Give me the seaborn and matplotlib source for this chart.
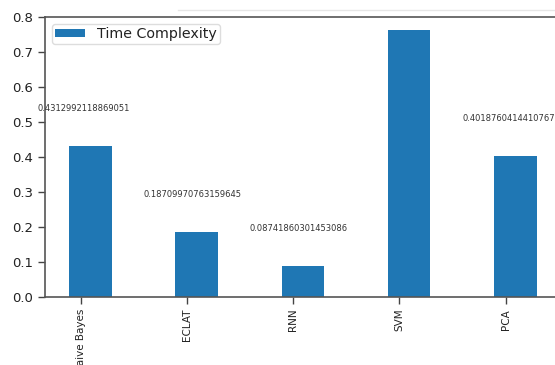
import numpy as np
import pandas as pd
import matplotlib
matplotlib.use("Agg")
import matplotlib.pyplot as plt
from matplotlib.lines import Line2D
import seaborn as sns

# ---- data ----
algorithms = ["Naive Bayes", "ECLAT", "RNN", "SVM", "PCA"]
time_complexity = [0.4312992118869051, 0.18709970763159645, 0.08741860301453086,
                   0.763, 0.4018760414410767]
value_labels = ["0.4312992118869051", "0.18709970763159645", "0.08741860301453086",
                "0.763", "0.4018760414410767"]
series_name = "Time Complexity"
yticks = [0.0, 0.1, 0.2, 0.3, 0.4, 0.5, 0.6, 0.7, 0.8]

df = pd.DataFrame({"algorithm": algorithms, "value": time_complexity,
                   "series": series_name})

W, H = 555, 365
fig = plt.figure(figsize=(W / 100, H / 100), dpi=100)
fig.patch.set_facecolor("white")

left, top, bottom = 45, 17, 297
right = 568.6
ax = fig.add_axes([left / W, 1 - bottom / H, (right - left) / W, (bottom - top) / H])

sns.barplot(data=df, x="algorithm", y="value", hue="series",
            palette=["#1f77b4"], width=0.4, ax=ax, saturation=1)

ymax = 0.8
n = len(algorithms)
idx = np.arange(n)
# value annotations above each bar (the one above the axes top falls outside the picture)
for i, (v, s) in enumerate(zip(time_complexity, value_labels)):
    if v + 0.1 < ymax:
        ax.text(i - 0.5, v + 0.1, s, ha="left", va="baseline", fontsize=6,
                color="#333333")

ax.set_xlim(-0.428, 4.5)
ax.set_ylim(0, ymax)
ax.set_yticks(yticks)
ax.set_yticklabels([f"{t:.1f}" for t in yticks], fontsize=9.5, color="#222222")
ax.set_xticks(idx - 0.092)
ax.set_xticklabels(algorithms, rotation=90, fontsize=7.5, color="#222222")
ax.set_xlabel("")
ax.set_ylabel("")
ax.tick_params(axis="both", length=5, width=1, color="#444444")
for side in ["left", "bottom", "top", "right"]:
    ax.spines[side].set_color("#555555")
    ax.spines[side].set_linewidth(1.2)

handles, labels = ax.get_legend_handles_labels()
leg = ax.legend(handles, labels, loc="upper left", fontsize=10.3,
                handlelength=2.1, handleheight=0.5, borderpad=0.2,
                handletextpad=0.85, borderaxespad=0.5, fancybox=True,
                framealpha=1.0, edgecolor="#dddddd")
for t in leg.get_texts():
    t.set_color("#222222")

fig.add_artist(Line2D([178 / W, 1.0], [1 - 10 / H, 1 - 10 / H],
                      transform=fig.transFigure, color="#e6e6e6", lw=1))

fig.savefig("out.png", dpi=100)
